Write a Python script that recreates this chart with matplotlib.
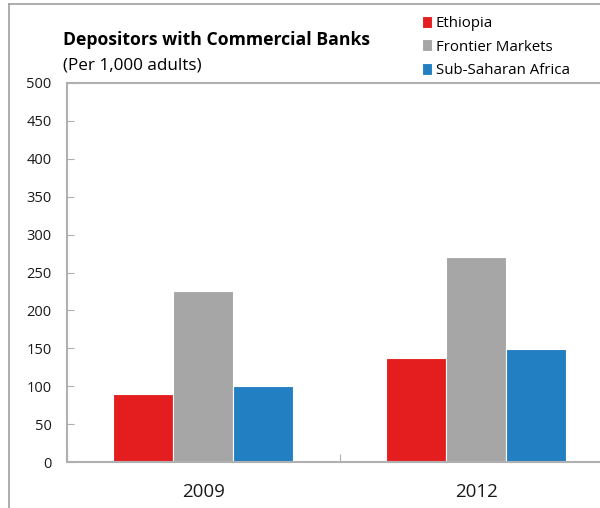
import numpy as np
import matplotlib.pyplot as plt
from matplotlib.lines import Line2D

plt.rcParams['font.family'] = ['Open Sans', 'DejaVu Sans']

years = ['2009', '2012']
series = ['Ethiopia', 'Frontier Markets', 'Sub-Saharan Africa']
ethiopia = [90, 137]
frontier = [225, 270]
ssa = [100, 149]
colors = ['#E41E1E', '#A6A6A6', '#2280C2']

fig = plt.figure(figsize=(6, 5.08), dpi=100)
ax = fig.add_axes([67 / 600, 1 - 462 / 508, 545.5 / 600, 379 / 508])

x = np.arange(len(years)) + 0.5
w = 0.22
for i, (vals, c) in enumerate(zip([ethiopia, frontier, ssa], colors)):
    ax.bar(x + (i - 1) * w, vals, w, color=c, edgecolor='white', linewidth=0.8,
           label=series[i], zorder=2)

ax.set_xlim(0, 2)
ax.set_ylim(0, 500)
ax.set_yticks(range(0, 501, 50))
ax.tick_params(axis='y', direction='in', length=5, color='#B0B0B0',
               labelsize=10.5, pad=11, labelcolor='#1a1a1a')
ax.set_xticks([0, 1, 2])
ax.set_xticklabels([])
ax.set_xticks(x, minor=True)
ax.set_xticklabels(years, minor=True)
ax.tick_params(axis='x', which='major', direction='in', length=6, color='#B0B0B0')
ax.tick_params(axis='x', which='minor', length=0, labelsize=13.5, pad=15,
               labelcolor='#1a1a1a')
for s in ['left', 'top', 'bottom']:
    ax.spines[s].set_color('#B0B0B0')
    ax.spines[s].set_linewidth(1.5)
ax.spines['right'].set_visible(False)

fig.text(63 / 600, 1 - 40 / 508, 'Depositors with Commercial Banks',
         fontsize=12.7, fontweight='bold', va='center', ha='left')
fig.text(63 / 600, 1 - 66 / 508, '(Per 1,000 adults)',
         fontsize=12.3, va='center', ha='left')

ax.legend(loc='upper left', bbox_to_anchor=(416 / 600, 1 - 10 / 508),
          bbox_transform=fig.transFigure, frameon=False, fontsize=10.8,
          handlelength=0.65, handleheight=0.85, handletextpad=0.25,
          labelspacing=0.55, borderaxespad=0)

# outer frame (left and top edges)
fig.add_artist(Line2D([9 / 600, 9 / 600], [0, 1 - 4 / 508],
                      transform=fig.transFigure, color='#A0A0A0', lw=1.2))
fig.add_artist(Line2D([9 / 600, 1], [1 - 4 / 508, 1 - 4 / 508],
                      transform=fig.transFigure, color='#A0A0A0', lw=1.2))

fig.savefig('out.png', dpi=100)
